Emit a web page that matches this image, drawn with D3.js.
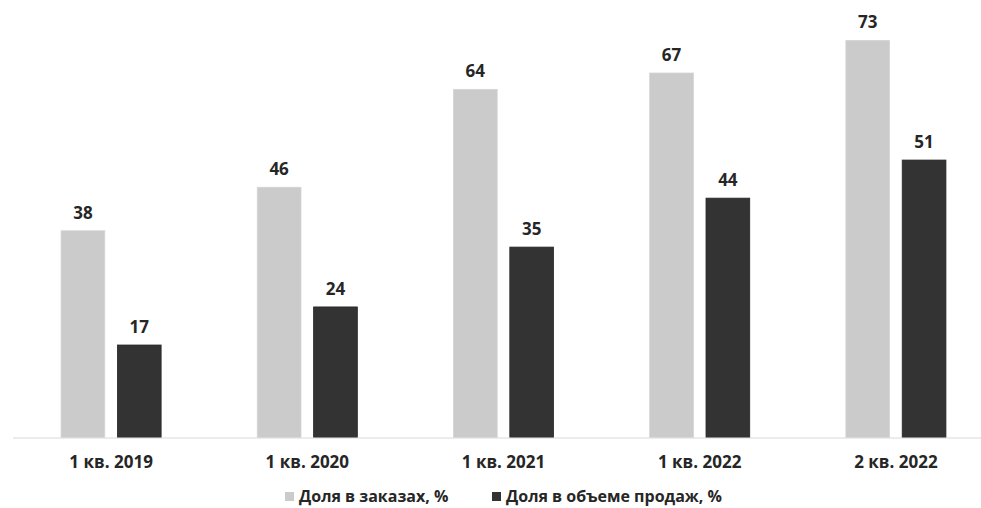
<!DOCTYPE html>
<html><head><meta charset="utf-8">
<script src="https://cdn.jsdelivr.net/npm/d3@7"></script>
<style>body{margin:0;background:#fff}svg{display:block}text{font-family:"Open Sans",sans-serif;font-weight:700}</style>
</head><body>
<script>
const categories = ["1 кв. 2019","1 кв. 2020","1 кв. 2021","1 кв. 2022","2 кв. 2022"];
const seriesNames = ["Доля в заказах, %","Доля в объеме продаж, %"];
const ordersShare = [38,46,64,67,73];
const salesShare = [17,24,35,44,51];
const colors = ["#cbcbcb","#333333"];

const W=981,H=508;
const svg=d3.select("body").append("svg").attr("width",W).attr("height",H);
const x0=d3.scaleBand().domain(categories).range([13,994]).paddingInner(0.49).paddingOuter(0.245);
const x1=d3.scaleBand().domain([0,1]).range([0,x0.bandwidth()]).paddingInner(0.224);
const y=d3.scaleLinear().domain([0,80]).range([437.5,2.3]);

const data=categories.map((c,i)=>({c,vals:[ordersShare[i],salesShare[i]]}));
const g=svg.selectAll("g.grp").data(data).enter().append("g").attr("transform",d=>`translate(${x0(d.c)},0)`);
g.selectAll("rect").data(d=>d.vals.map((v,k)=>({v,k}))).enter().append("rect")
 .attr("x",d=>x1(d.k)).attr("width",x1.bandwidth())
 .attr("y",d=>y(d.v)).attr("height",d=>y(0)-y(d.v))
 .attr("fill",d=>colors[d.k]).attr("stroke",d=>d.k?"#262626":"#d4d4d4").attr("stroke-width",0.8);
g.selectAll("text.v").data(d=>d.vals.map((v,k)=>({v,k}))).enter().append("text")
 .attr("x",d=>x1(d.k)+x1.bandwidth()/2).attr("y",d=>y(d.v)-12)
 .attr("text-anchor","middle").attr("font-size",17).attr("fill","#262626").text(d=>d.v);

svg.append("line").attr("x1",13).attr("x2",W).attr("y1",438).attr("y2",438).attr("stroke","#d9d9d9").attr("stroke-width",1);

const xAxis=svg.append("g").attr("transform","translate(0,438)")
 .call(d3.axisBottom(x0).tickSize(0).tickPadding(18));
xAxis.select(".domain").remove();
xAxis.selectAll("text").attr("font-size",17).attr("fill","#262626").attr("font-family","Open Sans").attr("font-weight",700);

const leg=svg.append("g");
const legX=[285,492];
seriesNames.forEach((n,i)=>{
 leg.append("rect").attr("x",legX[i]).attr("y",492).attr("width",9).attr("height",9).attr("fill",colors[i]);
 leg.append("text").attr("x",legX[i]+14).attr("y",502).attr("font-size",16).attr("fill","#262626").text(n);
});
</script>
</body></html>
